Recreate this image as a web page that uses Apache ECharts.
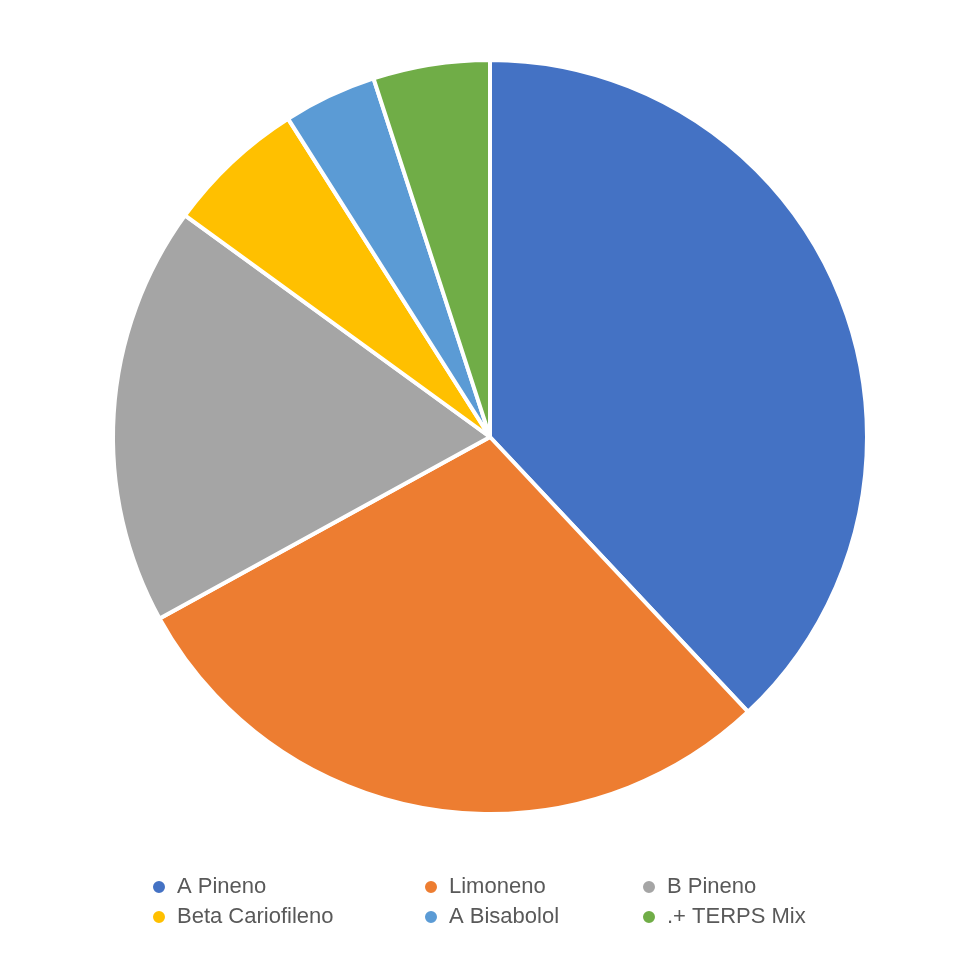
<!DOCTYPE html>
<html>
<head>
<meta charset="utf-8">
<script src="https://cdn.jsdelivr.net/npm/echarts@6/dist/echarts.min.js"></script>
<style>html,body{margin:0;background:#fff}#chart{width:980px;height:980px}</style>
</head>
<body>
<div id="chart"></div>
<script>
const names = ['A Pineno', 'Limoneno', 'B Pineno', 'Beta Cariofileno', 'A Bisabolol', '.+ TERPS Mix'];
const values = [38, 29, 18, 6, 4, 5];
const colors = ['#4472C4', '#ED7D31', '#A5A5A5', '#FFC000', '#5B9BD5', '#70AD47'];

const chart = echarts.init(document.getElementById('chart'));

// one vertical legend per column, like the Excel layout
const columns = [[0, 3], [1, 4], [2, 5]];
const lefts = [146, 418, 636];
const legend = columns.map((col, i) => ({
  orient: 'vertical',
  left: lefts[i],
  top: 871,
  itemGap: 8,
  itemWidth: 14,
  itemHeight: 14,
  icon: 'circle',
  textStyle: { fontSize: 22, color: '#595959', fontFamily: 'Liberation Sans, Arial, sans-serif', padding: [0, 0, 0, 6] },
  data: col.map(k => names[k])
}));

chart.setOption({
  animation: false,
  color: colors,
  legend: legend,
  series: [{
    type: 'pie',
    center: [490, 437],
    radius: [0, 377],
    startAngle: 90,
    clockwise: true,
    label: { show: false },
    labelLine: { show: false },
    itemStyle: { borderColor: '#fff', borderWidth: 4 },
    data: names.map((n, i) => ({ name: n, value: values[i] }))
  }]
});
</script>
</body>
</html>
